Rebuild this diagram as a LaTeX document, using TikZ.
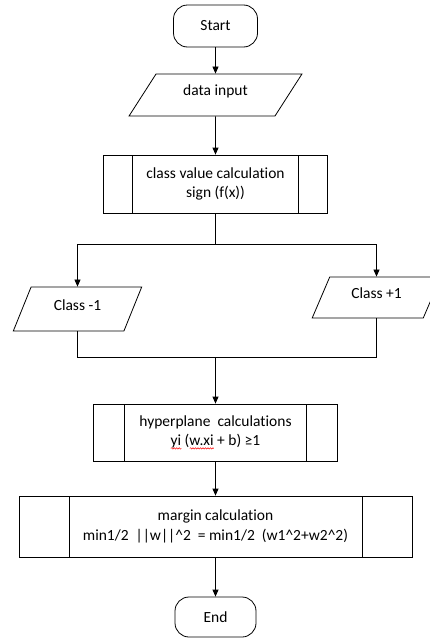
\documentclass[tikz,border=0pt]{standalone}
\usepackage{fontspec}
\setmainfont{Carlito}[Ligatures=NoCommon]
\usetikzlibrary{shapes.geometric,arrows.meta,decorations.pathmorphing}
\newlength\spellwd
\newcommand\spellmark[1]{\settowidth\spellwd{#1}\rlap{\tikz[baseline=0pt]
  \draw[red,line width=0.5pt,decorate,decoration={snake,amplitude=0.7pt,segment length=2.5pt}]
    (0pt,-2.5pt) -- (\spellwd,-2.5pt);}#1}
% Word puts the text of a data box a little above its middle
\newcommand\lifted[1]{\raisebox{4pt}[\height][\depth]{#1}}
\tikzset{
  box/.style={draw, line width=0.8pt, align=center, font=\fontsize{15.5}{19.5}\selectfont},
  term/.style={box, rectangle, rounded corners=14pt},
  io/.style={box, trapezium, trapezium stretches=true},
  subproc/.style={box, rectangle, path picture={
      \draw[line width=0.8pt]
        ([xshift=#1]path picture bounding box.north west) -- ([xshift=#1]path picture bounding box.south west)
        ([xshift=-#1]path picture bounding box.north east) -- ([xshift=-#1]path picture bounding box.south east);}},
  arr/.style={-{Triangle[width=6pt,length=7pt]}}
}
\begin{document}
\begin{tikzpicture}[x=1pt,y=-1pt,line width=0.8pt]
      \useasboundingbox (0,0) rectangle (430,640);
      \draw
        (215.5,26) node[term, minimum width=84pt, minimum height=42pt] (start){Start}
        (215.5,95) node[io, trapezium left angle=51, trapezium right angle=129,
          minimum width=173pt, minimum height=42pt] (input){\lifted{data input}}
        (215.5,184) node[subproc=29pt, minimum width=224pt, minimum height=58pt] (classval)
          {class value calculation\\sign (f(x))}
        (77.5,309) node[io, trapezium left angle=59.4, trapezium right angle=120.6,
          minimum width=129pt, minimum height=44pt] (neg){\lifted{Class -1}}
        (376.5,297.5) node[io, trapezium left angle=58.6, trapezium right angle=121.4,
          minimum width=129pt, minimum height=41pt] (pos){\lifted{Class +1}}
        (215.5,432.5) node[subproc=31pt, minimum width=244pt, minimum height=57pt] (hyper)
          {hyperplane\ \ calculations\\\spellmark{yi} (\spellmark{w.xi} + b) ≥1}
        (215.5,526.5) node[subproc=50pt, minimum width=393pt, minimum height=61pt] (margin)
          {margin calculation\\min1/2\ \ ||w||\textasciicircum2\ \ = min1/2\ \ (w1\textasciicircum2+w2\textasciicircum2)}
        (215.5,617) node[term, minimum width=81pt, minimum height=40pt] (end){End};
      \coordinate (split) at (215.5,244);
      \coordinate (join) at (215.5,357);
      \begin{scope}[arr]
        \draw (start) to (input);
        \draw (input) to (classval);
        \draw[-] (classval) to (split);
        \draw (split) -| (neg);
        \draw (split) -| (pos);
        \draw[-] (neg) |- (join);
        \draw[-] (pos) |- (join);
        \draw (join) to (hyper);
        \draw (hyper) to (margin);
        \draw (margin) to (end);
      \end{scope}
    \end{tikzpicture}
\end{document}
